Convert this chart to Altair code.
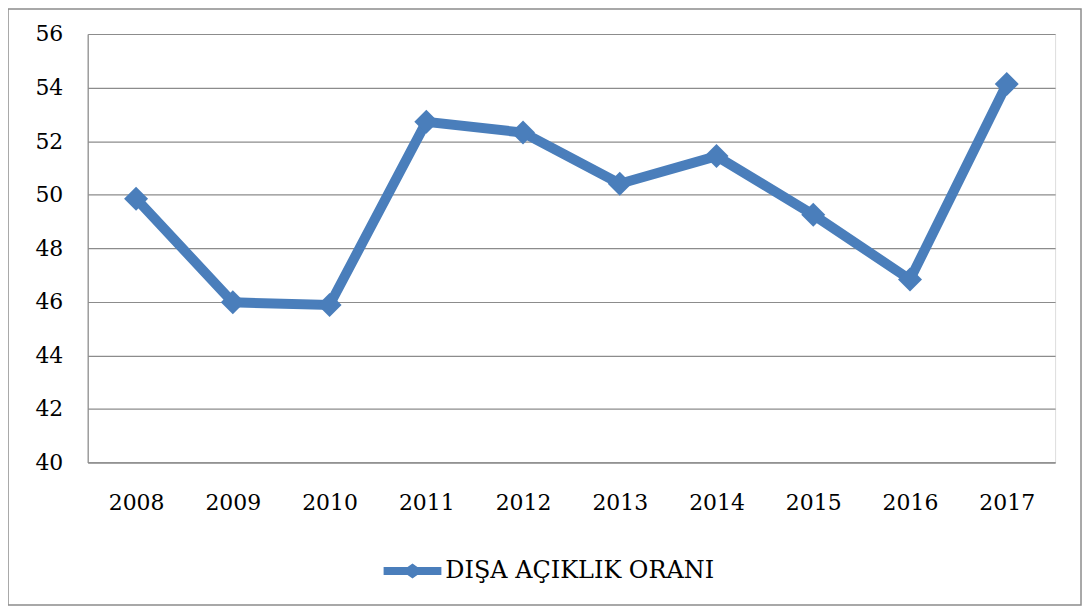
import altair as alt
import pandas as pd

years = ["2008", "2009", "2010", "2011", "2012", "2013", "2014", "2015", "2016", "2017"]
values = [49.85, 45.98, 45.88, 52.72, 52.32, 50.41, 51.44, 49.25, 46.83, 54.13]
series_name = "DIŞA AÇIKLIK ORANI"
y_ticks = [40, 42, 44, 46, 48, 50, 52, 54, 56]

BLUE = "#4a7ebb"
GRID = "#8c8c8c"
FONT = "DejaVu Serif"

df = pd.DataFrame({"year": years, "value": values, "series": [series_name] * len(years)})

x_enc = alt.X(
    "year:O",
    scale=alt.Scale(type="point", padding=0.5),
    axis=alt.Axis(
        title=None, labelAngle=0, ticks=False, tickSize=0, grid=False,
        domain=True, domainColor=GRID, domainWidth=1.2,
        labelFont=FONT, labelFontSize=22, labelColor="black",
        labelPadding=40, labelBaseline="middle",
    ),
)
y_enc = alt.Y(
    "value:Q",
    scale=alt.Scale(domain=[40, 56], nice=False, zero=False),
    axis=alt.Axis(
        title=None, values=y_ticks, ticks=False, tickSize=0,
        grid=True, gridColor=GRID, gridWidth=1.2,
        domain=True, domainColor=GRID, domainWidth=1.2,
        labelFont=FONT, labelFontSize=22, labelColor="black",
        labelPadding=25,
    ),
)

base = alt.Chart(df).encode(x=x_enc, y=y_enc)

line = base.mark_line(color=BLUE, strokeWidth=10, strokeJoin="miter")

legend_path = (
    "M-1,-0.14 L-0.17,-0.14 L0,-0.26 L0.17,-0.14 L1,-0.14 "
    "L1,0.14 L0.17,0.14 L0,0.26 L-0.17,0.14 L-1,0.14 Z"
)

points = base.mark_point(shape="diamond", filled=True, size=580, opacity=1).encode(
    color=alt.Color(
        "series:N",
        scale=alt.Scale(range=[BLUE]),
        legend=alt.Legend(
            title=None, orient="none", legendX=297, legendY=510,
            symbolType=legend_path, symbolSize=3364, symbolStrokeWidth=0,
            symbolOpacity=1,
            labelFont=FONT, labelFontSize=24, labelColor="black",
            labelOffset=4, labelLimit=600,
        ),
    )
)

frame = alt.Chart(pd.DataFrame({"a": [0]})).mark_rect(
    fill=None, stroke=GRID, strokeWidth=1.5
).encode(
    x=alt.value(-80), x2=alt.value(997), y=alt.value(-25), y2=alt.value(573)
)

chart = alt.layer(frame, line, points).properties(
    width=971, height=430,
    autosize=alt.AutoSizeParams(type="none"),
    padding={"left": 80, "top": 25, "right": 27, "bottom": 146},
).configure_view(stroke=None).configure(background="white", font=FONT)

chart.save("out.html", embed_options={"renderer": "svg", "actions": False})
